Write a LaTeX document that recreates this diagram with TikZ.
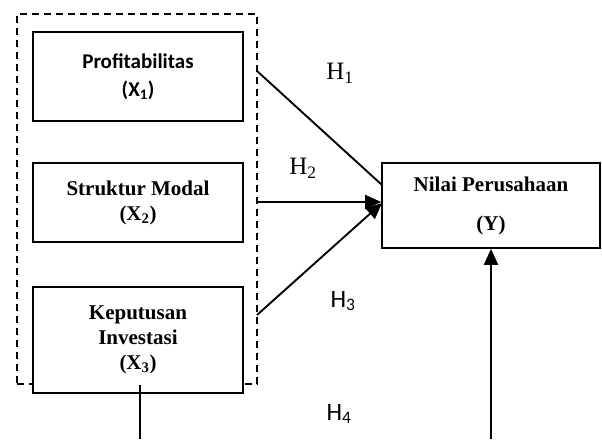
\documentclass[tikz,border=0pt]{standalone}
\usepackage{fontspec}
\setmainfont{Liberation Serif}
\newfontfamily\carlito{Carlito}
\usetikzlibrary{arrows.meta}
\begin{document}
\begin{tikzpicture}[x=1pt,y=1pt,
  varbox/.style={draw, line width=1.6pt, fill=white, inner sep=0pt, align=center},
  grpbox/.style={draw, line width=1.4pt, dash pattern=on 7pt off 5pt, inner sep=0pt},
  conn/.style={line width=1.9pt},
  arr/.style={line width=1.9pt, -{Triangle[length=16pt,width=14pt]}},
  hlab/.style={font=\fontsize{25}{28}\selectfont, inner sep=0pt},
  clab/.style={font=\carlito\fontsize{25}{28}\selectfont, inner sep=0pt},
  btxt/.style={font=\bfseries\fontsize{21}{25}\selectfont},
]
\useasboundingbox (0,0) rectangle (602,-439);
% dashed group
\node[grpbox, minimum width=240pt, minimum height=370pt] (grp) at (137,-199) {};
% boxes
\node[varbox, minimum width=210pt, minimum height=89pt, font=\carlito\bfseries\fontsize{21}{28}\selectfont] (x1) at (138,-76.5) {Profitabilitas\\(X\textsubscript{1})};
\node[varbox, minimum width=210pt, minimum height=79pt, btxt] (x2) at (138,-202.5) {Struktur Modal\\(X\textsubscript{2})};
\node[varbox, minimum width=210pt, minimum height=106pt, btxt] (x3) at (138,-340) {Keputusan\\Investasi\\(X\textsubscript{3})};
\node[varbox, minimum width=218pt, minimum height=85pt, font=\bfseries\fontsize{21}{39}\selectfont] (ny) at (491,-205.5) {Nilai Perusahaan\\(Y)};
% connector anchors on the dashed frame
\coordinate (s1) at (257,-71);
\coordinate (s2) at (257,-202);
\coordinate (s3) at (257,-315);
\coordinate (e1) at (382,-185);
\coordinate (e3) at (382,-203);
\coordinate (b3) at (140,-385);
\coordinate (bl) at (140,-439);
\coordinate (br) at (491,-439);
% connectors
\draw[conn] (s1) -- (e1);
\draw[arr] (s2) -- (ny.west |- s2);
\draw[arr] (s3) -- (e3);
\draw[line width=1.4pt] (b3) -- (bl);
\draw[arr] (br) -- (ny.south);
% labels
\node[hlab] (h1) at (340,-73) {H\textsubscript{1}};
\node[hlab] (h2) at (303,-168) {H\textsubscript{2}};
\node[clab] (h3) at (343,-301) {H\textsubscript{3}};
\node[clab] (h4) at (339,-414) {H\textsubscript{4}};
\end{tikzpicture}
\end{document}
